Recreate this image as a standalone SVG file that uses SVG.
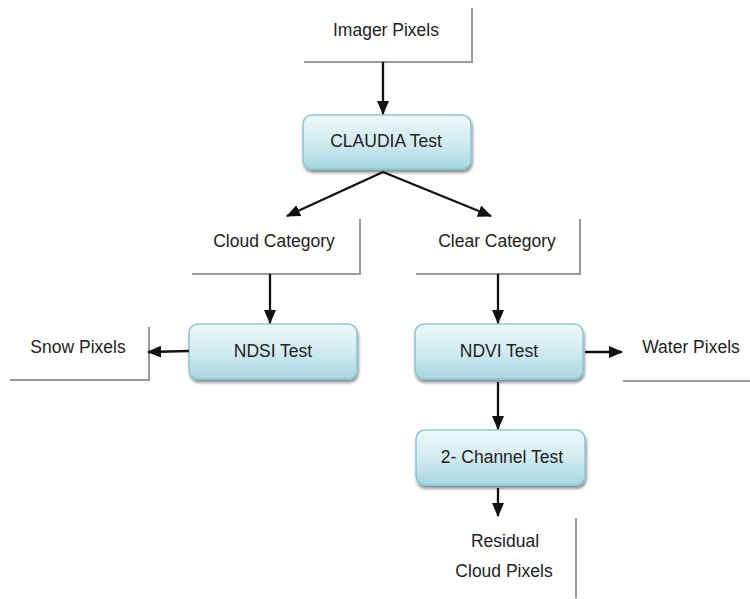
<svg xmlns="http://www.w3.org/2000/svg" width="750" height="599" viewBox="0 0 750 599">
  <defs>
    <linearGradient id="boxFill" x1="0" y1="0" x2="0" y2="1">
      <stop offset="0" stop-color="#eef8fa"/>
      <stop offset="0.5" stop-color="#d2ecf1"/>
      <stop offset="1" stop-color="#a6d6e0"/>
    </linearGradient>
    <filter id="shadow" x="-10%" y="-10%" width="120%" height="130%">
      <feGaussianBlur in="SourceAlpha" stdDeviation="1.5"/>
      <feOffset dx="1" dy="3" result="b"/>
      <feComponentTransfer><feFuncA type="linear" slope="0.45"/></feComponentTransfer>
      <feMerge><feMergeNode/><feMergeNode in="SourceGraphic"/></feMerge>
    </filter>
    <marker id="arrow" viewBox="0 0 14 12" refX="13" refY="6" markerWidth="14" markerHeight="12" markerUnits="userSpaceOnUse" orient="auto">
      <path d="M0,0 L14,6 L0,12 Z" fill="#111"/>
    </marker>
  </defs>
  <style>
    .lbl { font-family: "Liberation Sans", Arial, sans-serif; font-size: 17.5px; fill: #222; text-anchor: middle; }
    .box { fill: url(#boxFill); stroke: #8cc6d2; stroke-width: 1.5; filter: url(#shadow); }
    .bracket { fill: none; stroke: #9a9a9a; stroke-width: 2; }
    .conn { fill: none; stroke: #111; stroke-width: 2.3; marker-end: url(#arrow); }
  </style>
  <rect width="750" height="599" fill="#ffffff"/>

  <!-- data labels with open bracket lines -->
  <g id="imager-pixels">
    <path class="bracket" d="M304,62 H472 V8"/>
    <text class="lbl" x="386" y="36">Imager Pixels</text>
  </g>
  <g id="cloud-category">
    <path class="bracket" d="M192,274 H360 V219"/>
    <text class="lbl" x="274" y="247">Cloud Category</text>
  </g>
  <g id="clear-category">
    <path class="bracket" d="M416,274 H580 V219"/>
    <text class="lbl" x="497" y="247">Clear Category</text>
  </g>
  <g id="snow-pixels">
    <path class="bracket" d="M10,380 H149 V327"/>
    <text class="lbl" x="78" y="353">Snow Pixels</text>
  </g>
  <g id="water-pixels">
    <path class="bracket" d="M623,381 H750"/>
    <text class="lbl" x="691" y="353">Water Pixels</text>
  </g>
  <g id="residual-cloud-pixels">
    <path class="bracket" d="M576,518 V598"/>
    <text class="lbl" x="505" y="547">Residual</text>
    <text class="lbl" x="504" y="577">Cloud Pixels</text>
  </g>

  <!-- test steps -->
  <g id="claudia-test">
    <rect class="box" x="303" y="115" width="168" height="54" rx="9"/>
    <text class="lbl" x="386" y="147">CLAUDIA Test</text>
  </g>
  <g id="ndsi-test">
    <rect class="box" x="189" y="324" width="168" height="55" rx="9"/>
    <text class="lbl" x="273" y="357">NDSI Test</text>
  </g>
  <g id="ndvi-test">
    <rect class="box" x="415" y="324" width="168" height="55" rx="9"/>
    <text class="lbl" x="499" y="357">NDVI Test</text>
  </g>
  <g id="two-channel-test">
    <rect class="box" x="416" y="430" width="169" height="55" rx="9"/>
    <text class="lbl" x="502" y="463">2- Channel Test</text>
  </g>

  <!-- connectors -->
  <g id="connectors">
    <line class="conn" x1="383" y1="62" x2="383" y2="114"/>
    <line class="conn" x1="383" y1="172" x2="287" y2="216"/>
    <line class="conn" x1="383" y1="172" x2="491" y2="216"/>
    <line class="conn" x1="270" y1="274" x2="270" y2="323"/>
    <line class="conn" x1="498" y1="274" x2="498" y2="323"/>
    <line class="conn" x1="189" y1="351" x2="148" y2="352"/>
    <line class="conn" x1="585" y1="352" x2="622" y2="352"/>
    <line class="conn" x1="498" y1="382" x2="498" y2="429"/>
    <line class="conn" x1="498" y1="488" x2="498" y2="516"/>
  </g>
</svg>
